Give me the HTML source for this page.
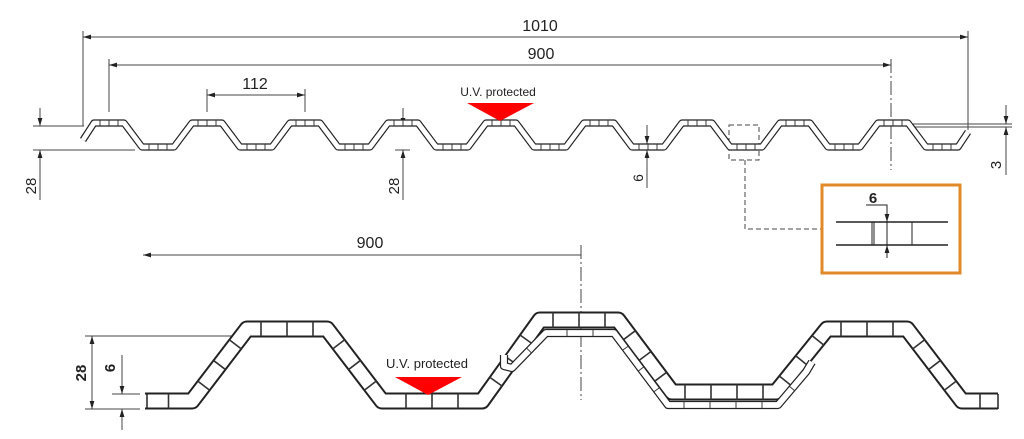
<!DOCTYPE html>
<html><head><meta charset="utf-8"><style>
html,body{margin:0;padding:0;background:#fff;}
svg{display:block;}
text{font-family:"Liberation Sans",sans-serif;fill:#222;}
</style></head><body>
<svg id="s" width="1024" height="439" viewBox="0 0 1024 439" xmlns="http://www.w3.org/2000/svg">
<defs>
<marker id="a" viewBox="0 0 10 6" refX="10" refY="3" markerWidth="8" markerHeight="5" orient="auto-start-reverse" markerUnits="userSpaceOnUse"><path d="M0,0 L10,3 L0,6z" fill="#222"/></marker>
</defs>
<g stroke="#444" stroke-width="1" fill="none">
<line x1="83" y1="31" x2="83" y2="126"/><line x1="968" y1="31" x2="968" y2="130"/>
<line x1="83" y1="37" x2="968" y2="37" marker-start="url(#a)" marker-end="url(#a)"/>
<line x1="109" y1="59" x2="109" y2="112"/>
<line x1="109" y1="65" x2="891" y2="65" marker-start="url(#a)" marker-end="url(#a)"/>
<line x1="891" y1="59" x2="891" y2="170" stroke-dasharray="14,3,2,3"/>
<line x1="207" y1="89" x2="207" y2="112"/><line x1="305" y1="89" x2="305" y2="112"/>
<line x1="207" y1="95" x2="305" y2="95" marker-start="url(#a)" marker-end="url(#a)"/>
<line x1="33" y1="126" x2="84" y2="126"/><line x1="33" y1="150" x2="135" y2="150"/>
<line x1="40" y1="108" x2="40" y2="126" marker-end="url(#a)"/><line x1="40" y1="200" x2="40" y2="150" marker-end="url(#a)"/>
<line x1="403" y1="108" x2="403" y2="126" marker-end="url(#a)"/><line x1="403" y1="200" x2="403" y2="150" marker-end="url(#a)"/>
<line x1="395" y1="150" x2="410" y2="150"/>
<line x1="647" y1="125" x2="647" y2="144" marker-end="url(#a)"/><line x1="647" y1="188" x2="647" y2="150" marker-end="url(#a)"/>
<line x1="910" y1="124" x2="1012" y2="124"/><line x1="910" y1="127" x2="1012" y2="127"/>
<line x1="1006" y1="105" x2="1006" y2="124" marker-end="url(#a)"/><line x1="1006" y1="175" x2="1006" y2="127" marker-end="url(#a)"/>
<rect x="729" y="125" width="30" height="35" stroke-dasharray="5,3"/>
<polyline points="745,160 745,229 822,229" stroke-dasharray="5,3"/>
<line x1="143" y1="255" x2="581" y2="255" marker-start="url(#a)"/>
<line x1="581" y1="245" x2="581" y2="400" stroke-dasharray="14,3,2,3"/>
<line x1="85" y1="336" x2="240" y2="336"/><line x1="85" y1="409" x2="140" y2="409"/>
<line x1="112" y1="394" x2="140" y2="394"/>
<line x1="92" y1="336" x2="92" y2="409" marker-start="url(#a)" marker-end="url(#a)"/>
<line x1="122" y1="355" x2="122" y2="394" marker-end="url(#a)"/><line x1="122" y1="430" x2="122" y2="409" marker-end="url(#a)"/>
</g>
<g id="prof"></g>
<rect x="822" y="185" width="138" height="88" fill="none" stroke="#e08a2a" stroke-width="3"/>
<g stroke="#222" fill="none">
<line x1="836" y1="222" x2="948" y2="222" stroke-width="1.5"/><line x1="836" y1="245" x2="948" y2="245" stroke-width="1.5"/>
<line x1="872" y1="222" x2="872" y2="245"/><line x1="874" y1="222" x2="874" y2="245"/><line x1="912" y1="222" x2="912" y2="245"/>
<polyline points="866,205 887,205 887,222" marker-end="url(#a)"/>
<line x1="887" y1="258" x2="887" y2="245" marker-end="url(#a)"/>
<line x1="887" y1="222" x2="887" y2="245"/>
</g>
<text x="873" y="203" font-size="15" font-weight="bold" text-anchor="middle">6</text>
<text x="540" y="31" font-size="16" text-anchor="middle">1010</text>
<text x="541" y="59" font-size="16" text-anchor="middle">900</text>
<text x="255" y="89" font-size="16" text-anchor="middle">112</text>
<text x="498" y="96" font-size="12" text-anchor="middle">U.V. protected</text>
<polygon points="467,103 534,103 500,121" fill="#f00"/>
<text x="370" y="248" font-size="16" text-anchor="middle">900</text>
<text x="427" y="368" font-size="13" text-anchor="middle">U.V. protected</text>
<polygon points="395,377 462,377 428,395" fill="#f00"/>
<text font-size="15" transform="translate(36,186) rotate(-90)" text-anchor="middle">28</text>
<text font-size="15" transform="translate(399,186) rotate(-90)" text-anchor="middle">28</text>
<text font-size="14" transform="translate(643,178) rotate(-90)" text-anchor="middle">6</text>
<text font-size="15" transform="translate(1001,165) rotate(-90)" text-anchor="middle">3</text>
<text font-size="15" font-weight="bold" transform="translate(86,373) rotate(-90)" text-anchor="middle">28</text>
<text font-size="15" font-weight="bold" transform="translate(115,368) rotate(-90)" text-anchor="middle">6</text>
</svg>
<script>
var NS="http://www.w3.org/2000/svg",g=document.getElementById("prof");
function el(t,a){var e=document.createElementNS(NS,t);for(var k in a)e.setAttribute(k,a[k]);g.appendChild(e);return e;}
function prof(pts,th,lw,ribGap,flatOnly){
 var d=pts.map(function(p,i){return (i?"L":"M")+p[0]+","+p[1];}).join(" ");
 el("path",{d:d,fill:"none",stroke:"#222","stroke-width":th+lw,"stroke-linejoin":"round"});
 el("path",{d:d,fill:"none",stroke:"#fff","stroke-width":th-lw,"stroke-linejoin":"round"});
 if(!ribGap)return;
 for(var i=0;i<pts.length-1;i++){
  var a=pts[i],b=pts[i+1],dx=b[0]-a[0],dy=b[1]-a[1],L=Math.hypot(dx,dy);
  if(flatOnly&&dy!==0)continue;
  if(L<ribGap*1.2)continue;
  var n=Math.floor(L/ribGap),st=(L-(n-1)*ribGap)/2;
  var nx=-dy/L*th/2,ny=dx/L*th/2;
  for(var j=0;j<n;j++){var t=(st+j*ribGap)/L,x=a[0]+dx*t,y=a[1]+dy*t;
   el("line",{x1:x-nx,y1:y-ny,x2:x+nx,y2:y+ny,stroke:"#333","stroke-width":lw*0.8});}
 }
}
var p=[[83,140],[94,123]];
for(var c=109;c<=795;c+=98){p.push([c-15,123],[c+15,123],[c+33,147],[c+65,147],[c+83,123]);}
p.pop();p.push([878,123],[908,123],[926,147],[958,147],[968,132]);
prof(p,6,1.2,9,true);
var q=[[145,401],[192,401],[247,329],[327,329],[382,401],[482,401],[540,320],[618,320],[672,392],[776,392],[827,329],[907,329],[962,401],[998,401]];
prof(q,15,2,26);
prof([[504,355],[504,366],[512,368],[546,333],[614,333],[668,405],[778,405],[806,372],[812,362]],7,1.2,26);
el("line",{x1:147,y1:394,x2:147,y2:409,stroke:"#222","stroke-width":1.5});
el("line",{x1:998,y1:394,x2:998,y2:409,stroke:"#222","stroke-width":1.5});
</script>
</body></html>
